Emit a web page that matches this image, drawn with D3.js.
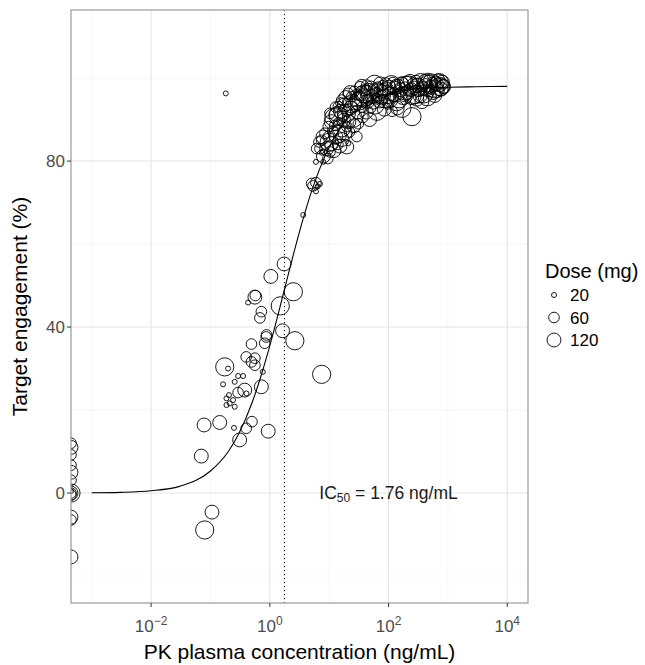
<!DOCTYPE html>
<html>
<head>
<meta charset="utf-8">
<script src="https://cdn.jsdelivr.net/npm/d3@7"></script>
<style>
  body { margin: 0; background: #fff; }
  text { font-family: "Liberation Sans", Arial, Helvetica, sans-serif; }
</style>
</head>
<body>
<div id="chart"></div>
<script>
// observed points: concentration (ng/mL), target engagement (%), dose (mg)
// conc 0 = below quantification, drawn on the left panel edge
var conc = [
  0, 0, 0, 0, 0, 0, 0, 0, 0, 0, 0, 0, 0, 0,
  1.74, 1.04, 2.49, 0.56, 0.57, 0.43, 1.50, 0.72, 0.68, 1.64, 2.64, 0.87, 0.49, 0.40,
  0.56, 0.49, 0.56, 0.174, 0.198, 0.76, 0.354, 0.292, 0.256, 0.163, 0.72, 0.378, 0.292, 0.205,
  0.186, 0.240, 0.211, 0.186, 0.256, 0.404, 0.078, 0.143, 0.249, 0.50, 0.40, 0.94, 0.31, 0.070,
  0.106, 0.080, 7.47, 0.181, 0.82, 0.88,
  3.65, 5.06, 5.98, 7.0, 5.98, 5.33, 6.4,
  5.98, 7.94, 6.15, 7.0, 9.07, 7.47, 8.49, 7.85, 6.73, 9.66, 7.56, 10.3, 19.8, 15.2, 21.0,
  29.2, 19.8, 10.3, 14.3, 16.3, 21.0, 33.1, 43.0, 168, 248, 365, 846,
  8.0, 9.5, 12.0, 14.0, 16.5, 10.0, 13.0,
  10.8, 11.5, 12.0, 12.5, 13.2, 13.8, 14.5, 15.5, 16.2, 17.0, 18.0, 18.5, 11.0, 9.8,
  19.5, 20.5, 21.5, 23.0, 24.0, 25.5, 27.0, 28.5, 30.0, 32.0, 22.0, 26.0, 31.0,
  34.5, 36.0, 38.0, 40.0, 42.0, 44.5, 47.0, 50.0, 53.0, 56.0, 59.0, 62.0, 66.0, 70.0, 37.0, 48.0, 64.0,
  75, 80, 86, 92, 98, 105, 112, 120, 128, 136, 145, 155, 165, 178, 190, 205, 220, 85, 140, 115,
  240, 260, 280, 300, 325, 350, 380, 410, 440, 470, 510, 550, 590, 640, 690, 740, 790, 830, 600, 450, 300,
  12.8, 14.0, 15.8, 17.5, 19.0, 20.0, 22.5, 24.5, 26.5, 29.0, 33.0, 35.5, 39.0, 43.0, 46.0, 51.0,
  55.0, 58.0, 63.0, 68.0, 73.0, 78.0, 83.0, 90.0, 95.0, 102, 108, 118, 125, 132, 150, 160,
  172, 185, 198, 212, 230, 250, 270, 290, 315, 340, 365, 395, 425, 460, 490, 530, 570, 620, 665, 715, 765, 810
];
var te = [
  12.0, 11.0, 9.2, 6.7, 5.0, 3.1, 0.5, 0, 0, 0, -0.5, -5.8, -6.5, -15.4,
  55.2, 52.2, 48.5, 47.2, 47.6, 45.9, 45.1, 43.7, 42.2, 39.1, 36.7, 37.6, 35.9, 32.8,
  32.5, 31.6, 30.8, 30.4, 30.0, 29.2, 28.2, 28.2, 26.8, 26.2, 25.6, 24.8, 24.2, 23.6,
  22.8, 22.4, 21.6, 21.2, 20.8, 24.0, 16.4, 17.0, 15.7, 17.2, 15.6, 14.9, 12.8, 8.9,
  -4.6, -8.9, 28.6, 96.3, 36.1, 38.1,
  67.0, 74.6, 74.8, 74.5, 72.7, 74.0, 73.9,
  79.8, 79.8, 83.0, 83.0, 83.0, 85.0, 86.7, 85.8, 84.6, 88.3, 82.0, 82.2, 83.4, 83.6, 84.3,
  85.9, 88.3, 91.5, 93.1, 94.7, 96.3, 97.9, 97.1, 92.7, 90.7, 94.3, 97.9,
  81.2, 80.6, 82.5, 84.0, 85.2, 84.5, 85.8,
  89.5, 87.2, 90.5, 88.6, 91.2, 86.5, 89.2, 92.0, 88.0, 90.8, 93.5, 86.8, 84.2, 86.0,
  91.5, 94.2, 89.5, 92.8, 95.5, 90.3, 93.6, 96.0, 91.8, 94.5, 87.0, 88.5, 89.0,
  96.3, 93.0, 95.2, 97.0, 91.8, 94.4, 96.5, 92.8, 95.5, 97.3, 93.5, 96.0, 97.8, 94.5, 90.5, 90.0, 92.0,
  96.8, 98.2, 95.0, 97.4, 93.8, 96.2, 98.4, 95.5, 97.6, 94.3, 98.0, 96.4, 98.6, 95.8, 97.8, 96.5, 98.3, 92.5, 92.8, 92.0,
  97.2, 98.8, 96.0, 98.2, 96.8, 98.9, 97.5, 99.2, 96.9, 98.5, 97.8, 99.0, 97.4, 98.6, 99.3, 97.9, 98.8, 98.0, 95.8, 95.5, 94.9,
  93.0, 91.0, 94.0, 89.8, 95.3, 92.0, 96.5, 93.8, 96.8, 94.8, 95.8, 98.0, 96.2, 98.3, 94.8, 97.6,
  94.2, 98.5, 95.0, 96.6, 98.6, 94.8, 97.0, 98.8, 96.0, 97.8, 94.6, 98.9, 96.0, 98.4, 95.0, 97.2,
  99.0, 96.0, 98.8, 97.0, 99.2, 95.8, 97.6, 99.4, 97.8, 95.7, 98.0, 96.2, 98.2, 99.5, 96.8, 98.8, 96.5, 99.2, 97.0, 98.9, 97.3, 99.0
];
var dose = [
  60, 120, 60, 60, 120, 60, 20, 60, 120, 240, 60, 120, 60, 120,
  120, 120, 240, 120, 60, 20, 240, 60, 60, 120, 240, 60, 60, 60,
  60, 60, 60, 240, 20, 20, 20, 20, 20, 20, 120, 120, 60, 20,
  20, 20, 20, 20, 20, 20, 120, 120, 20, 60, 60, 120, 120, 120,
  120, 240, 240, 20, 60, 60,
  20, 60, 60, 20, 20, 60, 20,
  20, 20, 60, 60, 120, 60, 60, 120, 60, 60, 20, 60, 120, 120, 20,
  60, 60, 60, 60, 60, 60, 60, 60, 240, 240, 120, 120,
  120, 60, 120, 60, 120, 240, 120,
  120, 60, 240, 60, 120, 240, 60, 120, 240, 60, 120, 120, 120, 60,
  240, 60, 120, 120, 60, 240, 120, 60, 120, 240, 60, 120, 60,
  120, 60, 240, 60, 120, 120, 240, 60, 120, 60, 240, 120, 60, 120, 60, 120, 240,
  120, 60, 240, 120, 60, 120, 240, 60, 120, 240, 120, 60, 120, 240, 60, 120, 240, 120, 120, 60,
  120, 60, 240, 120, 60, 240, 120, 120, 60, 240, 120, 60, 240, 120, 120, 240, 60, 120, 120, 240, 120,
  60, 240, 60, 120, 120, 60, 120, 240, 60, 120, 60, 120, 240, 60, 60, 120,
  120, 240, 60, 240, 120, 60, 120, 60, 240, 120, 120, 60, 120, 60, 240, 120,
  60, 120, 120, 60, 120, 240, 120, 60, 240, 120, 60, 240, 120, 120, 60, 240, 120, 60, 120, 240, 120, 120
];

// fitted Emax curve
var curveConc = [0.001, 0.003, 0.01, 0.03, 0.1, 0.2, 0.3, 0.5, 0.7, 1, 1.5, 1.76, 2.5, 3.5, 5, 7, 10, 15, 20, 30, 50, 100, 200, 500, 1000, 3000, 10000];
var curveTe = [0.06, 0.17, 0.55, 1.6, 5.3, 10.0, 14.3, 21.7, 27.9, 35.5, 45.1, 49.0, 57.5, 65.2, 72.5, 78.3, 83.3, 87.7, 90.1, 92.6, 94.7, 96.3, 97.1, 97.7, 97.8, 97.9, 98.0];

var ic50 = 1.76;
var xTickPowers = [-2, 0, 2, 4];
var xMinorPowers = [-3, -1, 1, 3];
var yTicks = [0, 40, 80];
var yMinor = [-20, 20, 60, 100];
var legendDoses = [20, 60, 120];

function init(){
    var w = 645, h = 665;
    var left = 71, right = 528, top = 10, bottom = 603; // panel box

    var svg = d3.select("#chart").append("svg")
                .attr("width", w)
                .attr("height", h);

    var x = d3.scaleLog().domain([Math.pow(10, -3.35), Math.pow(10, 4.35)]).range([left, right]);
    var y = d3.scaleLinear().domain([-26.5, 116.4]).range([bottom, top]);
    // area-style size scale like ggplot, radius in px
    var r = function(d){ return 2.5 + 6.6 * Math.sqrt((d - 20) / 220); };

    svg.append("clipPath").attr("id", "panel")
       .append("rect").attr("x", left).attr("y", top)
       .attr("width", right - left).attr("height", bottom - top);

    // grid
    var grid = svg.append("g");
    grid.selectAll("line.xmin").data(xMinorPowers).enter().append("line")
        .attr("x1", d => x(Math.pow(10, d))).attr("x2", d => x(Math.pow(10, d)))
        .attr("y1", top).attr("y2", bottom)
        .attr("stroke", "#f2f2f2").attr("stroke-width", 0.6);
    grid.selectAll("line.ymin").data(yMinor).enter().append("line")
        .attr("y1", d => y(d)).attr("y2", d => y(d))
        .attr("x1", left).attr("x2", right)
        .attr("stroke", "#f2f2f2").attr("stroke-width", 0.6);
    grid.selectAll("line.xmaj").data(xTickPowers).enter().append("line")
        .attr("x1", d => x(Math.pow(10, d))).attr("x2", d => x(Math.pow(10, d)))
        .attr("y1", top).attr("y2", bottom)
        .attr("stroke", "#e6e6e6").attr("stroke-width", 1.1);
    grid.selectAll("line.ymaj").data(yTicks).enter().append("line")
        .attr("y1", d => y(d)).attr("y2", d => y(d))
        .attr("x1", left).attr("x2", right)
        .attr("stroke", "#e6e6e6").attr("stroke-width", 1.1);

    var plot = svg.append("g").attr("clip-path", "url(#panel)");

    // IC50 reference line
    plot.append("line")
        .attr("x1", x(ic50)).attr("x2", x(ic50))
        .attr("y1", top).attr("y2", bottom)
        .attr("stroke", "#000").attr("stroke-width", 1)
        .attr("stroke-dasharray", "1.2,2.8");

    // fitted curve
    var line = d3.line()
                 .x(function(d, i){ return x(curveConc[i]); })
                 .y(function(d){ return y(d); })
                 .curve(d3.curveMonotoneX);
    plot.append("path")
        .attr("d", line(curveTe))
        .attr("fill", "none").attr("stroke", "#000").attr("stroke-width", 1.1);

    // points
    plot.selectAll("circle.pt").data(te).enter().append("circle")
        .attr("cx", function(d, i){ return conc[i] > 0 ? x(conc[i]) : left; })
        .attr("cy", function(d){ return y(d); })
        .attr("r", function(d, i){ return r(dose[i]); })
        .attr("fill", "none").attr("stroke", "#000").attr("stroke-width", 0.9);

    // annotation
    var ann = svg.append("text")
        .attr("x", x(100)).attr("y", y(0) + 6)
        .attr("text-anchor", "middle")
        .attr("font-size", 17.5).attr("fill", "#1a1a1a");
    ann.append("tspan").text("IC");
    ann.append("tspan").attr("font-size", 12).attr("dy", 3).text("50");
    ann.append("tspan").attr("dy", -3).text(" = 1.76 ng/mL");

    // panel border
    svg.append("rect").attr("x", left).attr("y", top)
       .attr("width", right - left).attr("height", bottom - top)
       .attr("fill", "none").attr("stroke", "#999").attr("stroke-width", 1.2);

    // axes ticks
    svg.selectAll("line.xt").data(xTickPowers).enter().append("line")
       .attr("x1", d => x(Math.pow(10, d))).attr("x2", d => x(Math.pow(10, d)))
       .attr("y1", bottom).attr("y2", bottom + 4)
       .attr("stroke", "#333").attr("stroke-width", 1);
    svg.selectAll("line.yt").data(yTicks).enter().append("line")
       .attr("y1", d => y(d)).attr("y2", d => y(d))
       .attr("x1", left - 4).attr("x2", left)
       .attr("stroke", "#333").attr("stroke-width", 1);

    svg.selectAll("text.yl").data(yTicks).enter().append("text")
       .attr("x", left - 6).attr("y", d => y(d) + 6)
       .attr("text-anchor", "end").attr("font-size", 17).attr("fill", "#4d4d4d")
       .text(d => d);

    var xl = svg.selectAll("text.xl").data(xTickPowers).enter().append("text")
       .attr("x", d => x(Math.pow(10, d)))
       .attr("y", bottom + 29)
       .attr("text-anchor", "middle").attr("font-size", 17).attr("fill", "#4d4d4d");
    xl.append("tspan").text("10");
    xl.append("tspan").attr("font-size", 12).attr("dy", -7)
      .text(d => (d < 0 ? "\u2212" : "") + Math.abs(d));

    // axis titles
    svg.append("text").attr("x", (left + right) / 2).attr("y", 659)
       .attr("text-anchor", "middle").attr("font-size", 21).attr("fill", "#000")
       .text("PK plasma concentration (ng/mL)");
    svg.append("text")
       .attr("transform", "translate(27," + ((top + bottom) / 2) + ") rotate(-90)")
       .attr("text-anchor", "middle").attr("font-size", 21).attr("fill", "#000")
       .text("Target engagement (%)");

    // legend
    var lg = svg.append("g");
    lg.append("text").attr("x", 545).attr("y", 278)
      .attr("font-size", 20).attr("fill", "#000").text("Dose (mg)");
    var items = lg.selectAll("g.item").data(legendDoses).enter().append("g")
      .attr("transform", function(d, i){ return "translate(554," + (295 + i * 22.5) + ")"; });
    items.append("circle").attr("r", d => r(d))
      .attr("fill", "none").attr("stroke", "#000").attr("stroke-width", 0.9);
    items.append("text").attr("x", 16).attr("y", 6)
      .attr("font-size", 17).attr("fill", "#000").text(d => d);
}
window.onload = init;
</script>
</body>
</html>
